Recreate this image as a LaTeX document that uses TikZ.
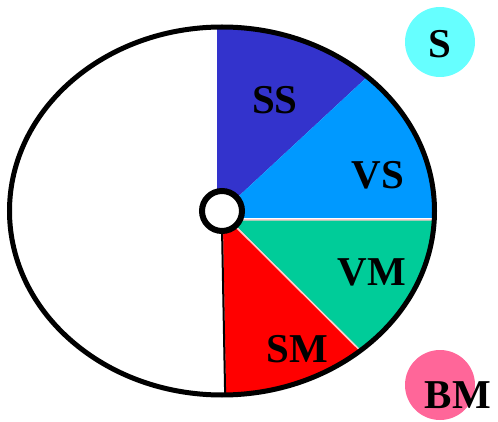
\documentclass[tikz,border=0pt]{standalone}
\usepackage{fontspec}
\setmainfont{Liberation Serif}
\begin{document}
\begin{tikzpicture}[x=1pt,y=-1pt,
  lbl/.style={font=\fontsize{41}{41}\selectfont\bfseries, inner sep=0pt},
  seg/.style={draw=none}]
\definecolor{cSS}{HTML}{3333CC}
\definecolor{cVS}{HTML}{0099FF}
\definecolor{cVM}{HTML}{00CC99}
\definecolor{cSM}{HTML}{FF0000}
\definecolor{cS}{HTML}{66FFFF}
\definecolor{cBM}{HTML}{FF6699}
\definecolor{cPink}{HTML}{FFCCCC}
\useasboundingbox (0,0) rectangle (498,422);
\coordinate (C) at (222,211);
\begin{scope}
  \clip (C) ellipse [x radius=212.5, y radius=184];
  \fill[cSS] (217,211) -- (217,0) -- (450,0) -- (240,195) -- cycle;
  \fill[cVS] (240,195) -- (450,0) -- (450,218) -- (222,218) -- cycle;
  \fill[cVM,draw=cPink,line width=1.5] (222,220) -- (450,220) -- (450,440) -- (237,228) -- cycle;
  \fill[cSM,draw=cPink,line width=1.5] (222,211) -- (237,228) -- (450,440) -- (226,440) -- (222,211) -- cycle;
  \draw[line width=2] (222,228) -- (226,440);
\end{scope}
\draw[line width=5] (C) ellipse [x radius=212.5, y radius=184];
\draw[line width=6, fill=white] (C) circle [radius=20];
\node[lbl] (ss) at (275,100) {SS};
\node[lbl] (vs) at (378,175) {VS};
\node[lbl] (vm) at (372,272) {VM};
\node[lbl] (sm) at (297,349) {SM};
\fill[cS] (440,42) circle [radius=35];
\node[lbl] (s) at (440,44) {S};
\fill[cBM] (440,385) circle [radius=35];
\node[lbl] (bm) at (458,395) {BM};
\end{tikzpicture}
\end{document}
